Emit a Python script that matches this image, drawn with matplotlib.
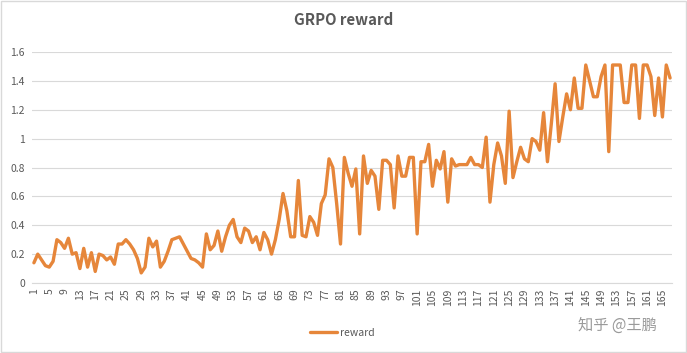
import matplotlib
matplotlib.use("Agg")
import matplotlib.pyplot as plt
from matplotlib.patches import Rectangle

plt.rcParams['font.family'] = ['Noto Sans CJK SC', 'DejaVu Sans']

# 数据：每一步的 reward 值
steps = list(range(1, 168))
reward = [
    0.14, 0.20, 0.16, 0.12, 0.11, 0.15, 0.30, 0.28, 0.24, 0.31,
    0.20, 0.21, 0.10, 0.24, 0.11, 0.21, 0.08, 0.20, 0.19, 0.16,
    0.18, 0.13, 0.27, 0.27, 0.30, 0.27, 0.23, 0.17, 0.07, 0.11,
    0.31, 0.25, 0.29, 0.11, 0.15, 0.22, 0.30, 0.31, 0.32, 0.27,
    0.22, 0.17, 0.16, 0.14, 0.11, 0.34, 0.23, 0.26, 0.36, 0.22,
    0.32, 0.40, 0.44, 0.32, 0.28, 0.38, 0.36, 0.28, 0.32, 0.23,
    0.35, 0.30, 0.20, 0.30, 0.44, 0.62, 0.50, 0.32, 0.32, 0.71,
    0.33, 0.32, 0.46, 0.42, 0.33, 0.55, 0.61, 0.86, 0.80, 0.55,
    0.27, 0.87, 0.76, 0.67, 0.79, 0.34, 0.88, 0.69, 0.78, 0.74,
    0.51, 0.85, 0.85, 0.82, 0.52, 0.88, 0.74, 0.74, 0.87, 0.87,
    0.34, 0.84, 0.84, 0.96, 0.67, 0.85, 0.79, 0.91, 0.56, 0.86,
    0.81, 0.82, 0.82, 0.82, 0.87, 0.82, 0.82, 0.80, 1.01, 0.56,
    0.82, 0.97, 0.88, 0.69, 1.19, 0.73, 0.84, 0.94, 0.86, 0.84,
    1.00, 0.98, 0.92, 1.18, 0.84, 1.10, 1.38, 0.98, 1.15, 1.31,
    1.20, 1.42, 1.21, 1.21, 1.51, 1.40, 1.29, 1.29, 1.43, 1.51,
    0.91, 1.51, 1.51, 1.51, 1.25, 1.25, 1.51, 1.51, 1.14, 1.51,
    1.51, 1.43, 1.16, 1.42, 1.15, 1.51, 1.42,
]
yticks = [0, 0.2, 0.4, 0.6, 0.8, 1, 1.2, 1.4, 1.6]
ytick_labels = ['0', '0.2', '0.4', '0.6', '0.8', '1', '1.2', '1.4', '1.6']
xticks = steps[::4]

fig = plt.figure(figsize=(6.87, 3.53), dpi=100)
ax = fig.add_axes([32 / 687, 1 - 283 / 353, 640 / 687, 231 / 353])

ax.plot(steps, reward, color='#E6863A', linewidth=2.4, label='reward',
        solid_joinstyle='round', solid_capstyle='round')

ax.set_xlim(0.5, 167.5)
ax.set_ylim(0, 1.6)
ax.set_yticks(yticks)
ax.set_yticklabels(ytick_labels)
ax.set_xticks(xticks)
ax.set_xticklabels([str(v) for v in xticks], rotation=90)
ax.tick_params(axis='both', length=0, labelsize=7.5, colors='#595959')
ax.tick_params(axis='y', pad=5)
ax.tick_params(axis='x', pad=4)

ax.grid(axis='y', color='#D9D9D9', linewidth=0.8)
ax.set_axisbelow(True)
for side in ['top', 'right', 'left']:
    ax.spines[side].set_visible(False)
ax.spines['bottom'].set_color('#D9D9D9')
ax.spines['bottom'].set_linewidth(0.8)

fig.text(0.5, 1 - 20 / 353, 'GRPO reward', ha='center', va='center',
         fontsize=10.8, fontweight='bold', color='#595959')

fig.legend(loc='center', bbox_to_anchor=(342 / 687, 1 - 333 / 353),
           frameon=False, fontsize=7.5, handlelength=2.6, labelcolor='#595959',
           handletextpad=0.3)

# 水印
fig.text(617 / 687, 1 - 325 / 353, '知乎 @王鹏', ha='center', va='center',
         fontsize=11, color='#9A9A9A')

# 图表外框
fig.patches.append(Rectangle((0.001, 0.002), 0.997, 0.996, transform=fig.transFigure,
                             fill=False, edgecolor='#D9D9D9', linewidth=1))

fig.savefig('out.png', dpi=100)
